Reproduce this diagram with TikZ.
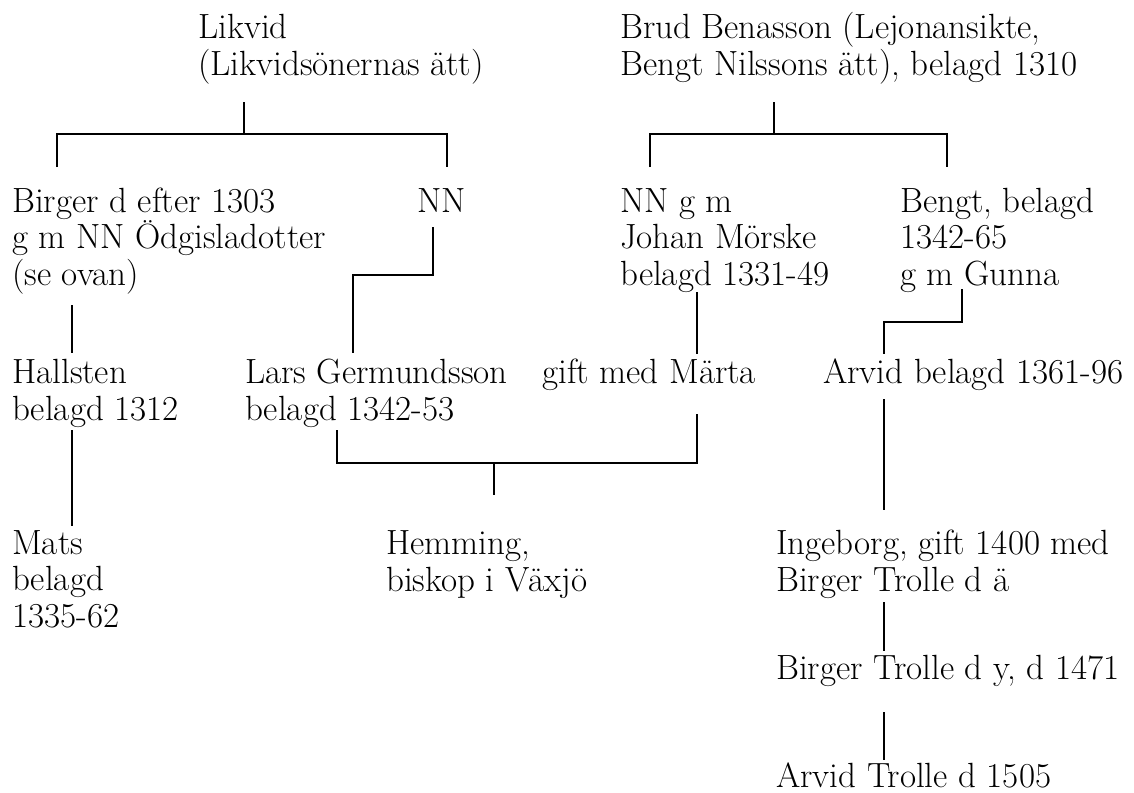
\documentclass[tikz,border=0pt]{standalone}
\usepackage{tikz}
\usetikzlibrary{positioning,calc}

\begin{document}
\begin{tikzpicture}[x=1pt, y=-1pt,
    person/.style={anchor=base west, inner sep=0pt, align=left,
      font=\fontsize{35}{36.5}\selectfont},
    link/.style={line width=2pt}]
  \useasboundingbox (0,0) rectangle (1134,792);

  % Nodes (placed at the baseline of their last line)
  \node [person] (likvid) at (198,75) {Likvid\\(Likvidsönernas ätt)};
  \node [person] (brud) at (620,75) {Brud Benasson (Lejonansikte,\\Bengt Nilssons ätt), belagd 1310};
  \node [person] (birger) at (12,285) {Birger d efter 1303\\g m NN Ödgisladotter\\(se ovan)};
  \node [person] (nnL) at (417,212) {NN};
  \node [person] (nnR) at (620,285) {NN g m\\Johan Mörske\\belagd 1331-49};
  \node [person] (bengt) at (900,285) {Bengt, belagd\\1342-65\\g m Gunna};
  \node [person] (hallsten) at (12,420) {Hallsten\\belagd 1312};
  \node [person] (lars) at (245,420) {Lars Germundsson\\belagd 1342-53};
  \node [person] (marta) at (542,383) {gift med Märta};
  \node [person] (arvid) at (823,383) {Arvid belagd 1361-96};
  \node [person] (mats) at (12,627) {Mats\\belagd\\1335-62};
  \node [person] (hemming) at (386,591) {Hemming,\\biskop i Växjö};
  \node [person] (ingeborg) at (776,591) {Ingeborg, gift 1400 med\\Birger Trolle d ä};
  \node [person] (birgerY) at (776,679) {Birger Trolle d y, d 1471};
  \node [person] (arvidT) at (776,787) {Arvid Trolle d 1505};

  % Joints
  \coordinate (likvidU) at (244,102);
  \coordinate (likvidM) at (244,134);
  \coordinate (birgerU) at (57,167);
  \coordinate (nnLU) at (447,167);
  \coordinate (brudU) at (774,102);
  \coordinate (brudM) at (774,134);
  \coordinate (nnRU) at (650,167);
  \coordinate (bengtU) at (947,167);
  \coordinate (birgerD) at (72,305);
  \coordinate (hallstenU) at (72,353);
  \coordinate (hallstenD) at (72,430);
  \coordinate (matsU) at (72,526);
  \coordinate (nnLD) at (433,227);
  \coordinate (nnLM) at (433,275);
  \coordinate (larsU) at (353,353);
  \coordinate (nnRD) at (697,292);
  \coordinate (martaU) at (697,354);
  \coordinate (martaD) at (697,414);
  \coordinate (larsD) at (337,430);
  \coordinate (pairM) at (494,463);
  \coordinate (hemmingU) at (494,495);
  \coordinate (bengtD) at (962,289);
  \coordinate (bengtM) at (962,322);
  \coordinate (arvidU) at (884,354);
  \coordinate (arvidD) at (884,399);
  \coordinate (ingeborgU) at (884,510);
  \coordinate (ingeborgD) at (884,602);
  \coordinate (birgerYU) at (884,651);
  \coordinate (birgerYD) at (884,712);
  \coordinate (arvidTU) at (884,760);

  % Lines
  \draw [link] (likvidU) -- (likvidM);
  \draw [link] (birgerU) |- (nnLU |- likvidM) -- (nnLU);
  \draw [link] (brudU) -- (brudM);
  \draw [link] (nnRU) |- (bengtU |- brudM) -- (bengtU);
  \draw [link] (birgerD) -- (hallstenU);
  \draw [link] (hallstenD) -- (matsU);
  \draw [link] (nnLD) -- (nnLM) -| (larsU);
  \draw [link] (nnRD) -- (martaU);
  \draw [link] (larsD) |- (martaD |- pairM) -- (martaD);
  \draw [link] (pairM) -- (hemmingU);
  \draw [link] (bengtD) -- (bengtM) -| (arvidU);
  \draw [link] (arvidD) -- (ingeborgU);
  \draw [link] (ingeborgD) -- (birgerYU);
  \draw [link] (birgerYD) -- (arvidTU);
\end{tikzpicture}
\end{document}
